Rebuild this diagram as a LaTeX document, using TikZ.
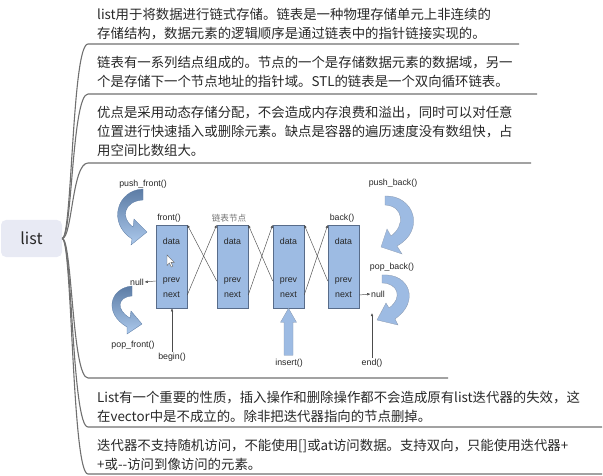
\documentclass[tikz,border=0pt]{standalone}
\usepackage{fontspec}
\setmainfont{Liberation Sans}
\newfontfamily\cjkfont{Noto Sans CJK SC}
\usetikzlibrary{arrows.meta,positioning}
\definecolor{rootfill}  {RGB}{232,234,244}
\definecolor{branchgray}{RGB}{112,112,112}
\definecolor{textgray}  {RGB}{40,40,40}
\definecolor{nodeblue}  {RGB}{157,187,227}
\definecolor{nodeedge}  {RGB}{88,108,138}
\definecolor{bendark}   {RGB}{92,124,165}
\definecolor{bendlight} {RGB}{172,201,236}
\tikzset{
  rootbox/.style ={fill=rootfill, rounded corners=5pt, minimum width=61pt,
                   minimum height=37pt, inner sep=0pt, text=textgray,
                   font=\cjkfont\fontsize{16}{19}\selectfont},
  topic/.style   ={anchor=north west, align=left, inner sep=0pt, text=textgray,
                   font=\cjkfont\fontsize{13.4}{19.2}\selectfont},
  branch/.style  ={draw=branchgray, line width=1.1pt},
  cellbox/.style ={draw=nodeedge, fill=nodeblue, line width=0.5pt,
                   minimum width=31pt, minimum height=83pt, inner sep=0pt},
  lbl/.style     ={inner sep=0.5pt, text=black!85,
                   font=\fontsize{8.8}{10}\selectfont},
  ptr/.style     ={-{Latex[length=3.2pt,width=2.6pt]}, line width=0.45pt,
                   draw=black!70},
  bendarrow/.style={top color=bendark, bottom color=bendlight, draw=bendark,
                   line width=0.3pt},
  flatarrow/.style={fill=nodeblue, draw=nodeedge!70, line width=0.3pt},
}

\begin{document}
\begin{tikzpicture}[x=1pt,y=-1pt]
  \useasboundingbox (0,0) rectangle (603,476);
  \node[rootbox] (list) at (31.5,238.5) {list};

  % topics
  \node[topic] (t1) at (97,8)
    {list用于将数据进行链式存储。链表是一种物理存储单元上非连续的\\
     存储结构，数据元素的逻辑顺序是通过链表中的指针链接实现的。};
  \node[topic] (t2) at (97,56)
    {链表有一系列结点组成的。节点的一个是存储数据元素的数据域，另一\\
     个是存储下一个节点地址的指针域。STL的链表是一个双向循环链表。};
  \node[topic] (t3) at (97,106)
    {优点是采用动态存储分配，不会造成内存浪费和溢出，同时可以对任意\\
     位置进行快速插入或删除元素。缺点是容器的遍历速度没有数组快，占\\
     用空间比数组大。};
  \node[topic] (t5) at (97,391)
    {List有一个重要的性质，插入操作和删除操作都不会造成原有list迭代器的失效，这\\
     在vector中是不成立的。除非把迭代器指向的节点删掉。};
  \node[topic] (t6) at (97,439)
    {迭代器不支持随机访问，不能使用[]或at访问数据。支持双向，只能使用迭代器+\\
     +或-{}-访问到像访问的元素。};

  % branches
  \foreach \n/\y/\xe in {1/44/519, 2/94/537, 3/163/531, 4/378/448,
                         5/427/602, 6/474/602}{
    \coordinate (b\n) at (88,\y);
    \coordinate (e\n) at (\xe,\y);
    \draw[branch] (list.east) .. controls +(10,0) and (72,\y) .. (b\n) -- (e\n);
  }

  % list cells
  \foreach \i/\x in {1/171.5, 2/232.5, 3/288.5, 4/343.5}{
    \node[cellbox] (n\i) at (\x,266.5) {};
    \node[lbl] (data\i) at (\x,241) {data};
    \node[lbl] (prev\i) at (\x,281) {prev};
    \node[lbl] (next\i) at (\x,295) {next};
  }
  \foreach \i/\j in {1/2, 2/3, 3/4}{
    \draw[ptr] (n\i.east |- next\i) -- (n\j.north west);
    \draw[ptr] (n\j.west |- prev\j) -- (n\i.north east);
  }

  % cursor
  \draw[fill=white, draw=black!60, line width=0.4pt]
    (167,255) -- (167,265.5) -- (169.4,263) -- (171.2,267) -- (172.8,266.2)
    -- (171,262.4) -- (174.2,262.4) -- cycle;

  % labels
  \node[lbl, above=2pt of n1, xshift=-2.5pt] (front) {front()};
  \node[lbl, above=2pt of n2, xshift=-3.5pt, text=black!55,
        font=\cjkfont\fontsize{8.6}{10}\selectfont] (cap) {链表节点};
  \node[lbl, above=2pt of n4, xshift=-1.5pt] (back) {back()};
  \node[lbl] (nullL) at (137,282) {null};
  \node[lbl] (nullR) at (378,294) {null};
  \node[lbl] (begin) at (172,357) {begin()};
  \node[lbl] (insert) at (289,363) {insert()};
  \node[lbl] (end) at (372,363) {end()};
  \node[lbl] (pushf) at (143,184) {push\_front()};
  \node[lbl] (popf) at (133,345) {pop\_front()};
  \node[lbl] (pushb) at (393,183) {push\_back()};
  \node[lbl] (popb) at (392,267) {pop\_back()};
  \coordinate (endtip) at (372,313);

  \draw[ptr] (n1.west |- prev1) -- (nullL.east);
  \draw[ptr] (n4.east |- next4) -- (nullR.west);
  \draw[ptr] (begin.north) -- (n1.south -| begin);
  \draw[ptr] (end.north) -- (endtip);
  \draw[flatarrow] (n3.south) -- ++(8,14) -- ++(-3.5,0) -- ++(0,33)
    -- ++(-9,0) -- ++(0,-33) -- ++(-3.5,0) -- cycle;

  % bent arrows
  \draw[bendarrow] (143,189) .. controls (117,190) and (107,223) .. (132,239)
    -- (131,245) -- (147,232) -- (134,219) -- (133,227)
    .. controls (120,218) and (124,201) .. (143,200) -- cycle;
  \draw[bendarrow] (132,286) .. controls (110,288) and (103,313) .. (127,327)
    -- (127,334) -- (142,324) -- (131,311) -- (130,318)
    .. controls (116,310) and (117,297) .. (132,296) -- cycle;
  \draw[flatarrow] (385,196) .. controls (414,195) and (426,230) .. (397,246)
    -- (402,254) -- (381,247) -- (387,229) -- (391,236)
    .. controls (405,226) and (404,206) .. (385,205) -- cycle;
  \draw[flatarrow] (382,275) .. controls (410,273) and (420,302) .. (395,319)
    -- (398,325) -- (377,320) -- (386,303) -- (389,308)
    .. controls (403,298) and (398,283) .. (382,283) -- cycle;
\end{tikzpicture}
\end{document}
